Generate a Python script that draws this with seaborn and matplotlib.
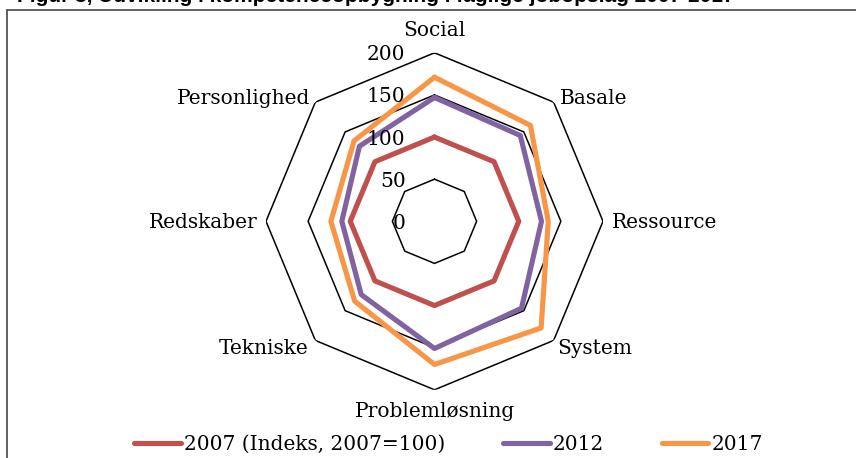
"""Radar chart: kompetencer i jobopslag 2007, 2012, 2017 (indeks, 2007=100)."""

import matplotlib.pyplot as plt
from matplotlib.lines import Line2D
import numpy as np
import pandas as pd
import seaborn as sns

categories = ["Social", "Basale", "Ressource", "System",
              "Problemløsning", "Tekniske", "Redskaber", "Personlighed"]
values_2007 = [100, 100, 100, 100, 100, 100, 100, 100]
values_2012 = [147, 144, 127, 146, 151, 123, 110, 126]
values_2017 = [171, 161, 135, 179, 170, 134, 123, 135]
series_names = ["2007 (Indeks, 2007=100)", "2012", "2017"]
ring_values = [0, 50, 100, 150, 200]

sns.set_style("white")
plt.rcParams["font.family"] = ["DejaVu Serif", "DejaVu Sans"]
plt.rcParams["text.color"] = "black"

n = len(categories)
angles = np.arange(n) * 2 * np.pi / n
closed = np.append(angles, 2 * np.pi)

rows = []
for name, vals in zip(series_names, [values_2007, values_2012, values_2017]):
    for a, v in zip(closed, vals + vals[:1]):
        rows.append({"angle": a, "value": v, "series": name})
df = pd.DataFrame(rows)

W, H = 856, 458
fig = plt.figure(figsize=(W / 100, H / 100), dpi=100)
cx, cy, R = 434.5, H - 221.3, 168.5
ax = fig.add_axes([(cx - R) / W, (cy - R) / H, 2 * R / W, 2 * R / H],
                  projection="polar")
ax.set_theta_zero_location("N")
ax.set_theta_direction(-1)
ax.set_ylim(0, 200)
ax.set_xticks([])
ax.set_yticks([])
ax.grid(False)
ax.spines["polar"].set_visible(False)
ax.patch.set_alpha(0)

# octagon grid rings
for r in ring_values[1:]:
    ax.plot(closed, [r] * len(closed), color="black", lw=1.1, zorder=1)

palette = {series_names[0]: "#C0504D", series_names[1]: "#8064A2",
           series_names[2]: "#F79646"}
sns.lineplot(data=df, x="angle", y="value", hue="series", sort=False,
             estimator=None, palette=palette, lw=3.7, legend=False,
             ax=ax, zorder=3)
ax.set_xlabel("")
ax.set_ylabel("")

fs = 14.5
for r in ring_values:
    ax.annotate(str(r), xy=(0, r), xytext=(-29, -2), textcoords="offset pixels",
                ha="right", va="center", fontsize=fs, color="black", zorder=5)

offsets = [(0, 22, "center"), (6, 4, "left"), (9, -1, "left"), (4, -8, "left"),
           (0, -22, "center"), (-7, -8, "right"), (-8, -1, "right"), (-5, 4, "right")]
for a, lab, (dx, dy, ha) in zip(angles, categories, offsets):
    ax.annotate(lab, xy=(a, 200), xytext=(dx, dy), textcoords="offset pixels",
                ha=ha, va="center", fontsize=fs, color="black",
                annotation_clip=False)

handles = [Line2D([], [], color=palette[s], lw=3.7) for s in series_names]
leg = fig.legend(handles, series_names, loc="center", bbox_to_anchor=(0.524, 0.03),
                 ncol=3, frameon=False, fontsize=fs, handlelength=2.3,
                 handletextpad=0.15, columnspacing=2.9)
for t in leg.get_texts():
    t.set_color("black")

# partially cut-off title and frame of the original figure
fig.text(17 / W, 1 - 1.5 / H,
         "Figur 3, Udvikling i kompetenceopbygning i faglige jobopslag 2007-2017",
         ha="left", va="baseline", fontsize=15, fontweight="bold",
         family="Liberation Sans", color="black")
fig.add_artist(Line2D([7 / W, 7 / W], [0, 1 - 10 / H], transform=fig.transFigure,
                      color="#555555", lw=1.3))
fig.add_artist(Line2D([7 / W, 1], [1 - 10 / H, 1 - 10 / H], transform=fig.transFigure,
                      color="#555555", lw=1.3))

fig.savefig("out.png", dpi=100)
